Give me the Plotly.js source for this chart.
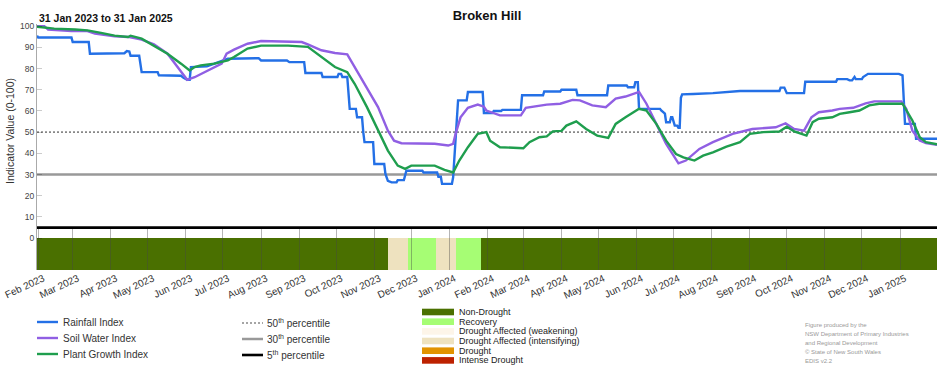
<!DOCTYPE html>
<html><head><meta charset="utf-8">
<script src="https://cdn.plot.ly/plotly-3.0.1.min.js"></script>
<style>html,body{margin:0;padding:0;background:#fff}#chart{width:952px;height:370px}</style>
</head><body><div id="chart"></div>
<script>
// ---------------- DATA ----------------
const rangeStart = '2023-01-31';
const rangeEnd = '2025-01-31';

const rainDates = ['2023-01-31','2023-02-01','2023-02-28','2023-03-01','2023-03-14','2023-03-15','2023-04-12','2023-04-14','2023-04-16','2023-04-17',
 '2023-04-24','2023-04-26','2023-05-09','2023-05-10','2023-05-28','2023-05-30','2023-06-02','2023-06-04','2023-06-05','2023-06-18',
 '2023-07-05','2023-07-27','2023-07-30','2023-08-01','2023-08-22','2023-08-24','2023-09-05','2023-09-06','2023-09-19','2023-09-20',
 '2023-10-02','2023-10-03','2023-10-05','2023-10-06','2023-10-10','2023-10-12','2023-10-17','2023-10-18','2023-10-22','2023-10-23',
 '2023-10-24','2023-10-31','2023-11-01','2023-11-09','2023-11-10','2023-11-12','2023-11-15','2023-11-19','2023-11-20','2023-11-25',
 '2023-11-27','2023-12-10','2023-12-11','2023-12-22','2023-12-23','2023-12-25','2023-12-26','2024-01-03','2024-01-04','2024-01-08',
 '2024-01-15','2024-01-16','2024-01-28','2024-01-29','2024-02-05','2024-02-06','2024-02-12','2024-02-13','2024-02-28','2024-02-29',
 '2024-03-17','2024-03-18','2024-03-31','2024-04-01','2024-04-13','2024-04-14','2024-05-08','2024-05-09','2024-05-24','2024-05-25',
 '2024-05-30','2024-05-31','2024-06-02','2024-06-03','2024-06-20','2024-06-21','2024-06-24','2024-06-25','2024-06-28','2024-06-29',
 '2024-06-30','2024-07-02','2024-07-04','2024-07-05','2024-07-06','2024-07-07','2024-07-08','2024-07-17','2024-08-02','2024-08-24',
 '2024-09-25','2024-09-26','2024-09-29','2024-10-01','2024-10-15','2024-10-16','2024-11-10','2024-11-11','2024-11-19','2024-11-21',
 '2024-11-23','2024-11-25','2024-11-26','2024-12-01','2024-12-02','2024-12-06','2024-12-31','2025-01-03','2025-01-05','2025-01-13',
 '2025-01-14','2025-01-31'];
const rainValues = [95.5,94.6,94.6,92.5,92.5,87,87.2,88.2,88,86,
 86,78.3,78.3,76.8,76.6,75.6,74.7,74.7,80.7,81,
 84.6,84.6,84.9,83.8,83.8,83,83,77.9,77.9,76,
 76,77.5,77.5,76,76,61,61,57,57,50,
 45.3,45.3,35,35,30.3,27,26.3,26.3,27.4,27.4,
 31.8,31.8,31,31,29,29,25.6,25.6,28.7,65,
 65,68.9,68.9,59,59,60,60,60.5,60.5,67.4,
 67.4,69.2,69.2,70,70,67.4,67.4,72,72,71.2,
 71.2,73.6,73.6,61,61,60.2,58.7,54.7,54.7,57,
 57,53.1,53.1,52,52,66.2,67.8,68,68.4,69.4,
 69.4,71,71,68.4,68.4,73.8,73.8,75,75,74.4,
 74.4,76,75,75,76,77.5,77.5,76.8,53.9,53.9,
 46.9,46.9];

const soilDates = ['2023-01-31','2023-02-06','2023-02-09','2023-02-28','2023-03-13','2023-03-19','2023-04-04','2023-04-15','2023-04-26','2023-05-06',
 '2023-05-17','2023-05-25','2023-06-02','2023-06-08','2023-06-19','2023-06-30','2023-07-04','2023-07-10','2023-07-21','2023-08-01',
 '2023-09-03','2023-09-08','2023-09-19','2023-09-30','2023-10-10','2023-10-16','2023-10-26','2023-11-04','2023-11-12','2023-11-17',
 '2023-11-23','2023-12-09','2023-12-20','2023-12-31','2024-01-04','2024-01-06','2024-01-10','2024-01-16','2024-01-24','2024-01-29',
 '2024-01-31','2024-02-11','2024-02-28','2024-03-03','2024-03-20','2024-03-31','2024-04-10','2024-04-16','2024-04-26','2024-05-07',
 '2024-05-15','2024-05-23','2024-06-01','2024-06-03','2024-06-09','2024-06-17','2024-06-25','2024-07-05','2024-07-11','2024-07-22',
 '2024-08-02','2024-08-18','2024-09-03','2024-09-22','2024-09-30','2024-10-07','2024-10-15','2024-10-21','2024-10-27','2024-11-07',
 '2024-11-13','2024-11-24','2024-12-04','2024-12-11','2025-01-02','2025-01-06','2025-01-11','2025-01-17','2025-01-22','2025-01-31'];
const soilValues = [100,100,98.4,97.7,97.7,96.5,95.2,94.9,93.6,91.4,
 87,80.7,74.7,75.9,79.1,82.3,87,88.9,91.7,93,
 92.5,91.4,88.6,87.3,86.7,80.7,71.2,61.8,50.7,46,
 44.8,44.8,44.5,43.7,44.5,49.2,57,61.5,63,62,
 60.2,57.9,57.9,61.5,63,63.4,65.2,65,62.6,61.8,
 65.8,66.8,68.4,69,63.4,53.9,44.5,35.3,36.6,42.1,
 45.3,49.2,51.5,52.3,54.2,51.5,50.7,57,59.4,60.2,
 61,61.5,63.6,64.5,64.5,61,50.7,46,44.8,44];

const plantDates = ['2023-01-31','2023-02-14','2023-03-03','2023-03-13','2023-03-24','2023-04-04','2023-04-15','2023-04-17','2023-04-26','2023-05-06',
 '2023-05-17','2023-05-28','2023-06-04','2023-06-08','2023-06-13','2023-06-24','2023-07-05','2023-07-10','2023-07-21','2023-08-01',
 '2023-08-23','2023-09-08','2023-09-19','2023-09-30','2023-10-10','2023-10-16','2023-10-26','2023-11-04','2023-11-12','2023-11-20',
 '2023-11-26','2023-12-01','2023-12-20','2023-12-28','2024-01-04','2024-01-09','2024-01-16','2024-01-24','2024-01-31','2024-02-03',
 '2024-02-11','2024-03-01','2024-03-06','2024-03-14','2024-03-20','2024-03-25','2024-04-01','2024-04-05','2024-04-13','2024-04-21',
 '2024-04-30','2024-05-09','2024-05-15','2024-05-23','2024-06-03','2024-06-09','2024-06-17','2024-06-25','2024-07-03','2024-07-09',
 '2024-07-14','2024-07-18','2024-07-25','2024-08-02','2024-08-13','2024-08-24','2024-09-01','2024-09-12','2024-09-25','2024-10-01',
 '2024-10-07','2024-10-14','2024-10-17','2024-10-22','2024-10-27','2024-11-07','2024-11-13','2024-11-21','2024-11-29','2024-12-07',
 '2024-12-15','2025-01-03','2025-01-11','2025-01-17','2025-01-22','2025-01-31'];
const plantValues = [99.7,98.8,98.4,98,96.8,95.5,94.9,95.5,94.1,90.9,
 87,82.3,79.1,80.7,81.5,82.3,83.8,85.4,89.4,90.8,
 90.8,90.2,85.4,80.7,78.3,72.8,61.8,50.7,41.3,34.2,
 32.7,34.2,34.2,32.2,31,36.6,42.9,49.2,50,46,
 42.9,42.4,45.3,47.6,48,50.4,50.6,53.1,55.1,51.5,
 48.4,47.3,53.9,57,61,60.2,53.9,46,39.7,38.1,
 37.4,36.6,38.9,40.5,43.2,45.3,49.2,50,50.3,52.6,
 50.4,49.2,48.4,54.7,56.3,57,58.6,59.4,60.2,62.6,
 63.4,63.4,55.5,47.6,45.3,44.3];

const seriesNames = ['Rainfall Index','Soil Water Index','Plant Growth Index'];

const percentileValues = [50, 30, 5];
const percentileLabels = ['50<sup>th</sup> percentile','30<sup>th</sup> percentile','5<sup>th</sup> percentile'];

const droughtStart  = ['2023-01-31','2023-11-12','2023-11-28','2023-12-21','2024-01-06','2024-01-27'];
const droughtEnd    = ['2023-11-12','2023-11-28','2023-12-21','2024-01-06','2024-01-27','2025-01-31'];
const droughtStatus = ['Non-Drought','Drought Affected (intensifying)','Recovery','Drought Affected (intensifying)','Recovery','Non-Drought'];
const statusNames   = ['Non-Drought','Recovery','Drought Affected (weakening)','Drought Affected (intensifying)','Drought','Intense Drought'];

const footerLines = ['Figure produced by the','NSW Department of Primary Industries','and Regional Development','\u00A9 State of New South Wales','EDIS v2.2'];

// ---------------- STYLE ----------------
const FONT = 'Liberation Sans, Arial, sans-serif';
const seriesColors = ['#2470e6','#905fe3','#1f9e4e'];
const statusColors = ['#4a7000','#a6fd74','#fdf5e9','#eee2bf','#e29300','#bd2100'];
const pctStyles = [{color:'#888888',width:1.6,dash:'2px,2px'},{color:'#999999',width:2.5,dash:'solid'},{color:'#000000',width:2.6,dash:'solid'}];
const BAR_DEPTH = -15;

const W = 952, H = 370, M = {l:37, r:15, t:24, b:100};
const px2x = px => (px - M.l) / (W - M.l - M.r);
const py2y = py => (H - M.b - py) / (H - M.t - M.b);
const toPD = ms => new Date(ms).toISOString().slice(0,19).replace('T',' ');

// ---------------- TRACES ----------------
const traces = [];
const ms = s => Date.parse(s + 'T00:00:00Z');
traces.push({
  type:'bar',
  x: droughtStart.map((s,i) => toPD((ms(s) + ms(droughtEnd[i])) / 2)),
  y: droughtStart.map(() => BAR_DEPTH),
  base: 0,
  width: droughtStart.map((s,i) => ms(droughtEnd[i]) - ms(s)),
  marker: {color: droughtStatus.map(s => statusColors[statusNames.indexOf(s)]), line:{width:0}},
  showlegend:false, hoverinfo:'skip'
});
percentileValues.forEach((p,i) => {
  traces.push({type:'scatter', mode:'lines', x:[rangeStart, rangeEnd], y:[p,p],
    line: pctStyles[i], showlegend:false, hoverinfo:'skip'});
});
const allDates = [rainDates, soilDates, plantDates];
const allVals = [rainValues, soilValues, plantValues];
seriesNames.forEach((n,i) => {
  traces.push({type:'scatter', mode:'lines', name:n, x:allDates[i], y:allVals[i],
    line:{color:seriesColors[i], width:2.4}, showlegend:false});
});

// ---------------- LEGENDS (manual) ----------------
const shapes = [], annotations = [];
const rowsA = [322, 338, 354];
seriesNames.forEach((n,i) => {
  shapes.push({type:'line', xref:'paper', yref:'paper', x0:px2x(37), x1:px2x(58), y0:py2y(rowsA[i]), y1:py2y(rowsA[i]),
    line:{color:seriesColors[i], width:2.4}});
  annotations.push({xref:'paper', yref:'paper', x:px2x(61), y:py2y(rowsA[i]), xanchor:'left', yanchor:'middle',
    text:n, showarrow:false, font:{family:FONT, size:10, color:'#333'}});
});
const rowsB = [323, 339, 355];
percentileLabels.forEach((t,i) => {
  shapes.push({type:'line', xref:'paper', yref:'paper', x0:px2x(242), x1:px2x(263), y0:py2y(rowsB[i]), y1:py2y(rowsB[i]),
    line:pctStyles[i]});
  annotations.push({xref:'paper', yref:'paper', x:px2x(265), y:py2y(rowsB[i]), xanchor:'left', yanchor:'middle',
    text:t, showarrow:false, font:{family:FONT, size:10, color:'#333'}});
});
const rowsC = [312, 321.7, 331.4, 341, 350.7, 360.4];
statusNames.forEach((n,i) => {
  shapes.push({type:'rect', xref:'paper', yref:'paper', x0:px2x(422), x1:px2x(454), y0:py2y(rowsC[i]+3.3), y1:py2y(rowsC[i]-3.3),
    fillcolor:statusColors[i], line:{width:0}});
  annotations.push({xref:'paper', yref:'paper', x:px2x(457), y:py2y(rowsC[i]), xanchor:'left', yanchor:'middle',
    text:n, showarrow:false, font:{family:FONT, size:9, color:'#222'}});
});
footerLines.forEach((t,i) => {
  annotations.push({xref:'paper', yref:'paper', x:px2x(803), y:py2y(325 + 9*i), xanchor:'left', yanchor:'middle',
    text:t, showarrow:false, font:{family:FONT, size:6, color:'#999'}});
});
// subtitle and y title
annotations.push({xref:'paper', yref:'paper', x:px2x(37), y:py2y(18), xanchor:'left', yanchor:'middle',
  text:'<b>31 Jan 2023 to 31 Jan 2025</b>', showarrow:false, font:{family:'Liberation Sans Narrow, Arial Narrow, '+FONT, size:10.5, color:'#111'}});
annotations.push({xref:'paper', yref:'paper', x:px2x(10), y:py2y(131), xanchor:'center', yanchor:'middle', textangle:-90,
  text:'Indicator Value (0-100)', showarrow:false, font:{family:FONT, size:10.5, color:'#333'}});

const layout = {
  width:W, height:H, margin:M,
  paper_bgcolor:'#fff', plot_bgcolor:'#fff',
  font:{family:FONT, color:'#333'},
  showlegend:false,
  barmode:'overlay', bargap:0,
  title:{text:'<b>Broken Hill</b>', xref:'paper', x:0.5, xanchor:'center', yref:'container', y:1-15/H, yanchor:'middle',
    font:{family:FONT, size:13, color:'#111'}},
  xaxis:{type:'date', range:[rangeStart, rangeEnd], tick0:'2023-02-01', dtick:'M1', tickformat:'%b %Y', tickangle:-25,
    ticks:'inside', ticklen:41, tickwidth:1, tickcolor:'rgba(70,70,70,0.4)', showgrid:false, zeroline:false, showline:false,
    ticklabeloverflow:'allow', ticklabelshift:5, automargin:false,
    tickfont:{family:FONT, size:10, color:'#333'}, fixedrange:true},
  yaxis:{range:[BAR_DEPTH, 101], tickvals:[0,10,20,30,40,50,60,70,80,90,100], ticks:'inside', ticklen:5, tickcolor:'rgba(0,0,0,0.2)',
    showline:true, linecolor:'#aaaaaa', linewidth:1, showgrid:false, zeroline:false, automargin:false,
    tickfont:{family:FONT, size:8.5, color:'#444'}, fixedrange:true},
  shapes:shapes, annotations:annotations
};
Plotly.newPlot('chart', traces, layout, {displayModeBar:false, staticPlot:true});
</script>
</body></html>
